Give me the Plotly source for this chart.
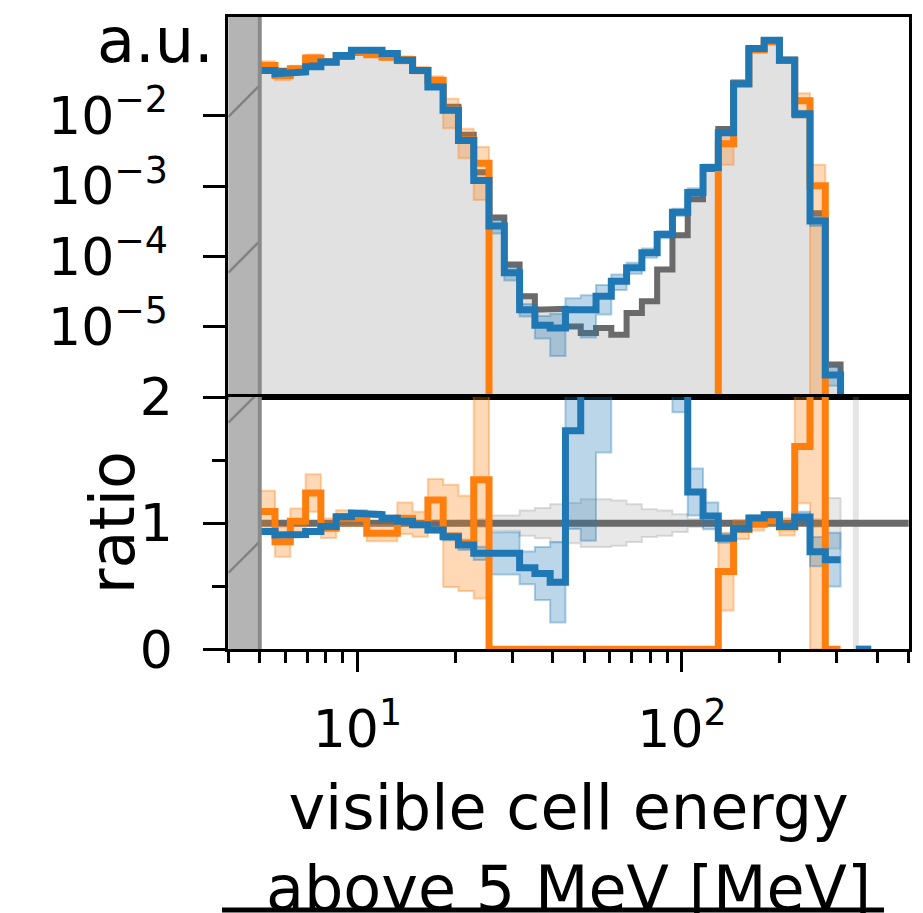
import numpy as np
import plotly.graph_objects as go

# ---------------------------------------------------------------------------
# Binning: log-spaced bins starting at the 5 MeV visibility threshold
# ---------------------------------------------------------------------------
E_THRESHOLD = 5.0          # MeV
BIN_WIDTH_DEX = 0.0471     # bin width in decades
N_BINS = 40
edges = E_THRESHOLD * 10 ** (BIN_WIDTH_DEX * np.arange(N_BINS + 1))

X_LIMITS = (4.0, 500.0)
Y_LIMITS_LOG = (-6.0, -0.586)
RATIO_LIMITS = (0.0, 2.0)

# ---------------------------------------------------------------------------
# Normalised histograms (a.u.) per bin
# ---------------------------------------------------------------------------
reference = [0.0475, 0.0439, 0.0463, 0.0537, 0.0601, 0.0689, 0.0794, 0.0802, 0.0740, 0.0608,
             0.0450, 0.0272, 0.01346, 0.00540, 0.001578, 3.57e-4, 7.69e-5, 2.71e-5, 1.75e-5, 1.80e-5,
             1.01e-5, 8.13e-6, 9.55e-6, 7.69e-6, 1.57e-5, 2.30e-5, 6.52e-5, 2.00e-4, 6.52e-4, 1.75e-3,
             6.52e-3, 0.0299, 0.0871, 0.1117, 0.0634, 0.0102, 4.12e-4, 2.90e-6, 0.0, 3.0e-7]

model_orange = [0.0519, 0.0374, 0.0470, 0.0665, 0.0577, 0.0716, 0.0826, 0.0738, 0.0681, 0.0632,
                0.0446, 0.0322, 0.0121, 0.00453, 0.00212, 0.0, 0.0, 0.0, 0.0, 0.0,
                0.0, 0.0, 0.0, 0.0, 0.0, 0.0, 0.0, 0.0, 0.0, 0.0,
                4.02e-3, 0.0284, 0.0863, 0.1140, 0.0615, 0.0164, 1.01e-3, 0.0, 0.0, 0.0]

model_blue = [0.0444, 0.0398, 0.0421, 0.0501, 0.0585, 0.0724, 0.0857, 0.0857, 0.0769, 0.0617,
              0.0444, 0.0257, 0.0120, 0.00447, 0.00120, 2.71e-4, 5.85e-5, 1.75e-5, 1.05e-5, 9.55e-6,
              1.75e-5, 1.75e-5, 2.71e-5, 4.44e-5, 6.89e-5, 1.127e-4, 2.06e-4, 4.27e-4, 8.13e-4, 1.85e-3,
              5.74e-3, 0.0286, 0.0906, 0.1191, 0.0617, 0.0107, 3.19e-4, 2.06e-6, 0.0, 0.0]

# relative statistical uncertainties per bin
reference_rel_err = [0.01, 0.01, 0.01, 0.01, 0.01, 0.01, 0.01, 0.01, 0.01, 0.01,
                     0.01, 0.01, 0.015, 0.02, 0.03, 0.06, 0.06, 0.10, 0.12, 0.15,
                     0.16, 0.19, 0.19, 0.18, 0.15, 0.11, 0.10, 0.07, 0.03, 0.02,
                     0.015, 0.01, 0.01, 0.01, 0.01, 0.01, 0.03, 0.20, 0.0, 0.0]

orange_rel_err = [0.15, 0.14, 0.10, 0.12, 0.08, 0.06, 0.06, 0.07, 0.07, 0.12,
                  0.10, 0.14, 0.45, 0.45, 0.70, 0.0, 0.0, 0.0, 0.0, 0.0,
                  0.0, 0.0, 0.0, 0.0, 0.0, 0.0, 0.0, 0.0, 0.0, 0.0,
                  0.50, 0.08, 0.05, 0.04, 0.07, 0.28, 1.00, 0.0, 0.0, 0.0]

blue_rel_err = [0.02, 0.02, 0.02, 0.02, 0.02, 0.02, 0.02, 0.02, 0.02, 0.02,
                0.02, 0.02, 0.03, 0.05, 0.07, 0.22, 0.22, 0.20, 0.35, 0.60,
                0.45, 0.60, 0.45, 0.25, 0.18, 0.15, 0.12, 0.12, 0.15, 0.10,
                0.04, 0.02, 0.02, 0.02, 0.02, 0.04, 0.15, 0.30, 0.0, 0.0]

y_tick_vals = [1e-5, 1e-4, 1e-3, 1e-2]
y_tick_text = ["10<sup>\u22125</sup>", "10<sup>\u22124</sup>", "10<sup>\u22123</sup>", "10<sup>\u22122</sup>"]
x_tick_vals = [10, 100]
x_tick_text = ["10<sup>1</sup>", "10<sup>2</sup>"]
x_minor_vals = [4, 5, 6, 7, 8, 9, 20, 30, 40, 50, 60, 70, 80, 90, 200, 300, 400, 500]

# ---------------------------------------------------------------------------
# Styling
# ---------------------------------------------------------------------------
FONT = "DejaVu Sans"
TICK_SIZE = 52
LABEL_SIZE = 62
BLUE = "#1f77b4"
ORANGE = "#ff7f0e"
GREY_LINE = "#6a6a6a"
GREY_FILL = "#e1e1e1"
LINE_W = 7
FLOOR = 1e-12   # stand-in for empty bins on the log axis

ref = np.array(reference, dtype=float)
orange = np.array(model_orange, dtype=float)
blue = np.array(model_blue, dtype=float)
ref_err = np.array(reference_rel_err, dtype=float)
orange_err = np.array(orange_rel_err, dtype=float)
blue_err = np.array(blue_rel_err, dtype=float)


def step_xy(vals):
    """Step outline over the bins; non-finite bins leave a gap."""
    xs, ys = [], []
    open_run = False
    for i, v in enumerate(vals):
        if not np.isfinite(v):
            if open_run:
                xs.append(None)
                ys.append(None)
            open_run = False
            continue
        xs += [edges[i], edges[i + 1]]
        ys += [v, v]
        open_run = True
    return xs, ys


def band_xy(lo, hi, mask):
    """Closed step polygons for every contiguous run of bins in mask."""
    xs, ys = [], []
    n = len(lo)
    i = 0
    while i < n:
        if not mask[i]:
            i += 1
            continue
        j = i
        while j < n and mask[j]:
            j += 1
        tx, ty, bx, by = [], [], [], []
        for k in range(i, j):
            tx += [edges[k], edges[k + 1]]
            ty += [hi[k], hi[k]]
        for k in range(j - 1, i - 1, -1):
            bx += [edges[k + 1], edges[k]]
            by += [lo[k], lo[k]]
        xs += tx + bx + [tx[0], None]
        ys += ty + by + [ty[0], None]
        i = j
    return xs, ys


def rgba(hex_color, a):
    h = hex_color.lstrip("#")
    return "rgba(%d,%d,%d,%.2f)" % (int(h[0:2], 16), int(h[2:4], 16), int(h[4:6], 16), a)


fig = go.Figure()

# ---------------- upper panel: distributions ----------------
top = dict(xaxis="x", yaxis="y")

# reference: filled grey histogram
rx, ry = step_xy(np.where(ref > 0, ref, FLOOR))
fig.add_trace(go.Scatter(x=[edges[0]] + rx + [edges[-1]], y=[FLOOR] + ry + [FLOOR],
                         mode="lines", fill="toself", fillcolor=GREY_FILL,
                         line=dict(width=0), hoverinfo="skip", **top))
fig.add_trace(go.Scatter(x=rx, y=ry, mode="lines", line=dict(color=GREY_LINE, width=6),
                         hoverinfo="skip", **top))

for vals, err, col in ((orange, orange_err, ORANGE), (blue, blue_err, BLUE)):
    lo = np.where(vals * (1 - err) > 0, vals * (1 - err), FLOOR)
    hi = vals * (1 + err)
    bx, by = band_xy(lo, hi, (vals > 0) & (err > 0))
    fig.add_trace(go.Scatter(x=bx, y=by, mode="lines", fill="toself",
                             fillcolor=rgba(col, 0.3), line=dict(color=rgba(col, 0.35), width=2),
                             hoverinfo="skip", **top))

for vals, col in ((orange, ORANGE), (blue, BLUE)):
    sx, sy = step_xy(np.where(vals > 0, vals, FLOOR))
    fig.add_trace(go.Scatter(x=sx, y=sy, mode="lines", line=dict(color=col, width=LINE_W),
                             hoverinfo="skip", **top))

# ---------------- lower panel: ratio to reference ----------------
bot = dict(xaxis="x2", yaxis="y2")
with np.errstate(divide="ignore", invalid="ignore"):
    ratio_orange = np.where(ref > 0, orange / ref, np.nan)
    ratio_blue = np.where(ref > 0, blue / ref, np.nan)

# reference uncertainty band around 1
gx, gy = band_xy(1 - ref_err, 1 + ref_err, (ref > 0) & (ref_err > 0))
fig.add_trace(go.Scatter(x=gx, y=gy, mode="lines", fill="toself",
                         fillcolor="rgba(150,150,150,0.22)",
                         line=dict(color="rgba(150,150,150,0.30)", width=2),
                         hoverinfo="skip", **bot))
# last populated reference bin edge
fig.add_trace(go.Scatter(x=[edges[39], edges[39]], y=list(RATIO_LIMITS), mode="lines",
                         line=dict(color="rgba(150,150,150,0.25)", width=6),
                         hoverinfo="skip", **bot))
fig.add_trace(go.Scatter(x=list(X_LIMITS), y=[1, 1], mode="lines",
                         line=dict(color=GREY_LINE, width=LINE_W), hoverinfo="skip", **bot))

for r, vals, err, col in ((ratio_orange, orange, orange_err, ORANGE),
                          (ratio_blue, blue, blue_err, BLUE)):
    bx, by = band_xy(r * (1 - err), r * (1 + err), (vals > 0) & (err > 0) & np.isfinite(r))
    fig.add_trace(go.Scatter(x=bx, y=by, mode="lines", fill="toself",
                             fillcolor=rgba(col, 0.3), line=dict(color=rgba(col, 0.35), width=2),
                             hoverinfo="skip", **bot))

for r, col in ((ratio_orange, ORANGE), (ratio_blue, BLUE)):
    sx, sy = step_xy(r)
    fig.add_trace(go.Scatter(x=sx, y=sy, mode="lines", line=dict(color=col, width=LINE_W),
                             hoverinfo="skip", **bot))

# ---------------- region below threshold (hatched) ----------------
HATCH_FILL = "#b4b4b4"
HATCH_LINE = "#828282"
# log10(y) at x=4 of each hatch stroke in the upper panel, rise of 0.449 dex to x=5
hatch_top = [-2.014, -4.23, -6.44]
hatch_bot = [1.796, 0.606]
for axes, ylo, yhi in ((top, 10 ** Y_LIMITS_LOG[0] / 10, 10.0), (bot, -1.0, 3.0)):
    fig.add_trace(go.Scatter(x=[X_LIMITS[0] / 1.5, E_THRESHOLD, E_THRESHOLD, X_LIMITS[0] / 1.5],
                             y=[ylo, ylo, yhi, yhi], mode="lines", fill="toself",
                             fillcolor=HATCH_FILL, line=dict(width=0), hoverinfo="skip", **axes))
for y0 in hatch_top:
    fig.add_trace(go.Scatter(x=[X_LIMITS[0], E_THRESHOLD], y=[10 ** y0, 10 ** (y0 + 0.449)],
                             mode="lines", line=dict(color=HATCH_LINE, width=2.5),
                             hoverinfo="skip", **top))
for y0 in hatch_bot:
    fig.add_trace(go.Scatter(x=[X_LIMITS[0], E_THRESHOLD], y=[y0, y0 + 0.249],
                             mode="lines", line=dict(color=HATCH_LINE, width=2.5),
                             hoverinfo="skip", **bot))
fig.add_trace(go.Scatter(x=[E_THRESHOLD, E_THRESHOLD], y=[10 ** Y_LIMITS_LOG[0] / 10, 10.0],
                         mode="lines", line=dict(color="#8a8a8a", width=4), hoverinfo="skip", **top))
fig.add_trace(go.Scatter(x=[E_THRESHOLD, E_THRESHOLD], y=[-1.0, 3.0],
                         mode="lines", line=dict(color="#8a8a8a", width=4), hoverinfo="skip", **bot))

# ---------------- layout ----------------
W, H = 923, 913
X_DOMAIN = [228.3 / W, 908.8 / W]
TOP_DOMAIN = [1 - 397.0 / H, 1 - 16.5 / H]
BOT_DOMAIN = [1 - 649.3 / H, 1 - 397.0 / H]
axis_common = dict(showline=True, linecolor="black", linewidth=3, mirror=True,
                   showgrid=False, zeroline=False, automargin=False,
                   tickfont=dict(family=FONT, size=TICK_SIZE, color="black"))
log_x = [np.log10(X_LIMITS[0]), np.log10(X_LIMITS[1])]

fig.update_layout(
    width=W, height=H, margin=dict(l=0, r=0, t=0, b=0, autoexpand=False),
    paper_bgcolor="white", plot_bgcolor="white", showlegend=False,
    xaxis=dict(type="log", range=log_x, domain=X_DOMAIN, anchor="y",
               showticklabels=False, ticks="", matches="x2", **axis_common),
    yaxis=dict(type="log", range=list(Y_LIMITS_LOG), domain=TOP_DOMAIN, anchor="x",
               tickvals=y_tick_vals, ticktext=y_tick_text, ticks="outside",
               ticklen=22, tickwidth=3, tickcolor="black", ticklabelstandoff=25,
               **axis_common),
    xaxis2=dict(type="log", range=log_x, domain=X_DOMAIN, anchor="y2",
                tickvals=x_tick_vals, ticktext=x_tick_text, ticks="outside",
                ticklen=20, tickwidth=3, tickcolor="black", ticklabelstandoff=12,
                minor=dict(tickvals=x_minor_vals, ticks="outside", ticklen=11,
                           tickwidth=2.5, tickcolor="black"),
                **axis_common),
    yaxis2=dict(range=list(RATIO_LIMITS), domain=BOT_DOMAIN, anchor="x2",
                tickvals=[0, 1, 2], ticks="outside", ticklen=22, tickwidth=3, tickcolor="black",
                ticklabelstandoff=20,
                minor=dict(tickvals=[0.5, 1.5], ticks="outside", ticklen=13,
                           tickwidth=2.5, tickcolor="black"),
                **axis_common),
)

label_font = dict(family=FONT, size=LABEL_SIZE, color="black")
fig.add_annotation(text="a.u.", xref="paper", yref="paper", x=216 / W, y=1 - 40 / H,
                   xanchor="right", yanchor="middle", showarrow=False, font=label_font)
fig.add_annotation(text="ratio", xref="paper", yref="paper", x=112 / W, y=1 - 523 / H,
                   xanchor="center", yanchor="middle", textangle=-90, showarrow=False,
                   font=label_font)
fig.add_annotation(text="visible cell energy<br>above 5 MeV [MeV]", xref="paper", yref="paper",
                   x=568 / W, y=1 - 848 / H, xanchor="center", yanchor="middle",
                   showarrow=False, font=label_font)
# top frame of the neighbouring panel below
fig.add_shape(type="line", xref="paper", yref="paper", x0=222 / W, x1=884 / W,
              y0=1 - 910 / H, y1=1 - 910 / H, line=dict(color="black", width=5))

fig.write_html("out.html")
